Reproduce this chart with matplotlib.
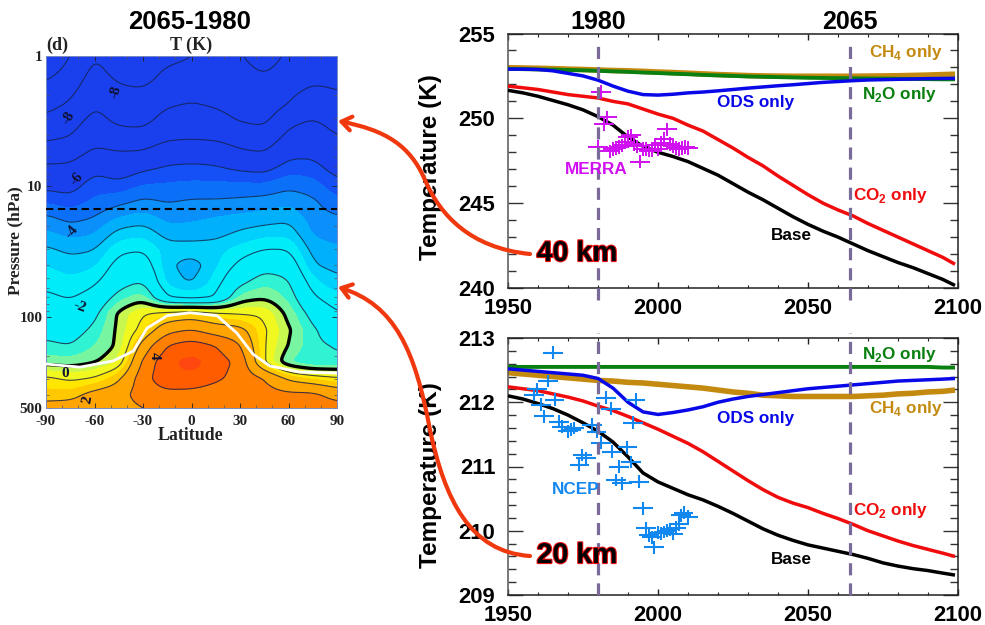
import numpy as np
import matplotlib
matplotlib.use('Agg')
import matplotlib.pyplot as plt
from matplotlib.colors import ListedColormap, BoundaryNorm
from matplotlib.patches import FancyArrowPatch
from matplotlib.path import Path
from matplotlib.ticker import MultipleLocator, FixedLocator, NullFormatter
import matplotlib.patheffects as pe

plt.rcParams['font.family'] = ['Liberation Sans', 'DejaVu Sans']
plt.rcParams['mathtext.fontset'] = 'custom'
plt.rcParams['mathtext.bf'] = 'Liberation Sans:bold'
plt.rcParams['mathtext.rm'] = 'Liberation Sans:bold'
plt.rcParams['axes.unicode_minus'] = False
plt.rcParams['contour.negative_linestyle'] = 'solid'

W, H = 985, 625

# ---- temperature change field, latitude vs pressure
lats = [-90, -75, -60, -45, -30, -15, 0, 15, 30, 45, 60, 75, 90]
press = [1.0, 1.33, 1.76, 2.34, 3.11, 4.14, 5.5, 7.3, 9.7, 12.9, 17.2, 22.8, 30.3,
         40.3, 53.6, 71.2, 94.7, 126, 167, 222, 296, 393, 500]
dT = np.array([
    [-9.8, -9.3, -8.8, -8.3, -7.8, -7.2, -6.5, -5.8, -5.2, -4.6, -3.9, -3.4, -2.9, -2.5, -2.2, -1.85, -1.5, -1.25, -0.85, -0.2, 1.15, 1.7, 2.3],
    [-9.0, -8.7, -8.3, -7.9, -7.4, -7.0, -6.4, -5.8, -5.3, -4.8, -4.2, -3.7, -3.15, -2.75, -2.4, -2.05, -1.65, -1.35, -1.0, -0.3, 0.85, 1.7, 2.4],
    [-8.0, -7.7, -7.4, -7.05, -6.7, -6.3, -5.8, -5.15, -4.7, -4.4, -4.0, -3.55, -3.05, -2.6, -2.15, -1.7, -1.25, -0.85, -0.5, -0.05, 1.05, 2.3, 2.6],
    [-8.6, -8.3, -7.9, -7.5, -7.2, -6.65, -5.95, -5.4, -4.85, -4.2, -3.5, -2.8, -2.15, -1.7, -1.35, -0.7, 0.15, 0.15, 0.1, 0.5, 1.8, 2.6, 2.6],
    [-8.9, -8.5, -8.0, -7.6, -7.25, -6.7, -5.9, -5.1, -4.5, -3.9, -3.3, -2.65, -2.05, -1.5, -0.95, -0.2, 0.95, 1.3, 2.4, 3.25, 3.6, 3.5, 3.0],
    [-8.3, -7.8, -7.5, -7.1, -6.65, -6.2, -5.4, -4.9, -4.45, -4.05, -3.7, -3.25, -2.75, -2.85, -2.7, -2.0, 1.3, 2.7, 4.05, 4.7, 4.7, 3.7, 3.1],
    [-8.0, -7.7, -7.3, -6.95, -6.5, -6.1, -5.45, -4.8, -4.4, -3.95, -3.6, -3.3, -2.7, -3.3, -3.1, -2.2, 1.5, 3.05, 4.5, 5.4, 4.8, 3.6, 3.0],
    [-7.8, -7.6, -7.4, -7.1, -6.7, -6.2, -5.4, -4.9, -4.4, -3.95, -3.5, -3.2, -2.7, -2.6, -2.3, -2.0, 1.15, 2.5, 4.0, 4.5, 4.2, 3.4, 3.0],
    [-7.9, -7.7, -7.5, -7.35, -7.05, -6.5, -5.85, -5.1, -4.4, -3.9, -3.4, -2.9, -2.35, -1.8, -1.2, -0.3, 0.95, 2.3, 3.1, 3.7, 3.6, 3.2, 3.0],
    [-8.5, -8.05, -7.8, -7.6, -7.2, -6.65, -6.0, -5.2, -4.45, -3.8, -3.3, -2.7, -2.0, -1.25, -0.65, -0.05, 0.9, 1.1, 1.0, 1.0, 3.0, 3.4, 3.4],
    [-7.8, -7.6, -7.3, -6.95, -6.25, -5.75, -5.2, -4.7, -4.15, -3.65, -3.15, -2.65, -2.0, -1.4, -0.9, -0.6, -0.2, 0.1, -0.05, -0.5, 1.8, 3.2, 3.5],
    [-7.8, -7.35, -6.9, -6.4, -5.95, -5.45, -5.15, -4.75, -4.3, -3.9, -3.75, -3.6, -3.25, -2.95, -2.4, -1.9, -1.3, -0.9, -0.85, -1.0, 1.4, 3.2, 3.6],
    [-7.6, -7.3, -7.05, -6.7, -6.35, -6.0, -5.65, -5.25, -4.85, -4.4, -3.95, -3.7, -3.45, -3.2, -2.85, -2.4, -1.95, -1.5, -1.05, -0.9, 1.1, 2.6, 3.4],
]).T

level_edges = [-20, -5, -4.5, -4, -3.5, -3, -2.5, -1, -0.5, 0, 0.5, 1, 1.5, 2, 3, 4, 5, 20]
level_cols = ['#1a40ee', '#1450f5', '#0c6ff8', '#0a8ffb', '#00b0fb', '#00d0fb', '#00ecf8',
              '#30f3d4', '#78f5a0', '#c8f850', '#f0f820', '#ffe600', '#ffc800',
              '#ffa400', '#ff8000', '#ff5c00', '#ff4810']
line_levels = [-10, -9, -8, -7, -6, -5, -4, -3, -2, -1, 1, 2, 3, 4]

# tropopause line, white on the panel
trop_lat = [-90, -69, -48.6, -36, -27.5, -15, -1, 15.8, 28, 38, 48.5, 67, 90]
trop_p = [230, 243, 218, 183, 122, 98, 93, 98, 133, 193, 238, 265, 270]

# ---- line panels
years = [1950, 1955, 1960, 1965, 1970, 1975, 1980, 1985, 1990, 1995, 2000, 2005, 2010, 2015, 2020, 2025,
         2030, 2035, 2040, 2045, 2050, 2055, 2060, 2065, 2070, 2075, 2080, 2085, 2090, 2095, 2099]
base_40 = [251.65, 251.5, 251.3, 251.05, 250.8, 250.5, 250.1, 249.6, 248.9, 248.35, 248.0, 247.75, 247.45, 247.05, 246.65, 246.15,
           245.65, 245.2, 244.7, 244.2, 243.75, 243.35, 243.0, 242.6, 242.2, 241.85, 241.5, 241.2, 240.85, 240.5, 240.15]
co2_40 = [251.9, 251.8, 251.7, 251.55, 251.4, 251.3, 251.2, 251.0, 250.85, 250.55, 250.25, 250.0, 249.6, 249.25, 248.75, 248.25,
          247.7, 247.2, 246.6, 246.05, 245.5, 245.0, 244.6, 244.25, 243.8, 243.4, 243.0, 242.6, 242.2, 241.8, 241.4]
ods_40 = [252.9, 252.9, 252.88, 252.8, 252.65, 252.5, 252.25, 251.9, 251.6, 251.4, 251.37, 251.42, 251.5, 251.55, 251.62, 251.7,
          251.78, 251.85, 251.92, 251.98, 252.05, 252.12, 252.17, 252.22, 252.26, 252.28, 252.3, 252.32, 252.34, 252.35, 252.36]
n2o_40 = [252.92, 252.9, 252.88, 252.87, 252.85, 252.83, 252.8, 252.77, 252.74, 252.7, 252.67, 252.63, 252.6, 252.56, 252.53, 252.5,
          252.47, 252.45, 252.43, 252.41, 252.39, 252.38, 252.37, 252.36, 252.35, 252.34, 252.33, 252.32, 252.31, 252.3, 252.3]
ch4_40 = [252.98, 252.97, 252.95, 252.93, 252.9, 252.88, 252.85, 252.82, 252.8, 252.77, 252.73, 252.7, 252.66, 252.62, 252.58, 252.55,
          252.52, 252.5, 252.49, 252.48, 252.48, 252.48, 252.48, 252.48, 252.49, 252.5, 252.51, 252.53, 252.55, 252.58, 252.6]

base_20 = [212.1, 212.05, 211.98, 211.9, 211.8, 211.68, 211.55, 211.38, 211.15, 210.9, 210.76, 210.66, 210.56, 210.48, 210.38, 210.27,
           210.15, 210.03, 209.93, 209.85, 209.78, 209.73, 209.68, 209.63, 209.57, 209.5, 209.45, 209.41, 209.38, 209.34, 209.31]
co2_20 = [212.24, 212.21, 212.18, 212.13, 212.08, 212.02, 211.94, 211.87, 211.78, 211.68, 211.58, 211.47, 211.36, 211.23, 211.08, 210.93,
          210.78, 210.64, 210.52, 210.43, 210.36, 210.27, 210.19, 210.1, 210.0, 209.92, 209.84, 209.77, 209.71, 209.65, 209.6]
ods_20 = [212.52, 212.5, 212.48, 212.46, 212.44, 212.42, 212.37, 212.22, 212.0, 211.85, 211.81, 211.84, 211.88, 211.93, 212.0, 212.05,
          212.09, 212.12, 212.15, 212.18, 212.21, 212.23, 212.25, 212.27, 212.29, 212.31, 212.33, 212.34, 212.35, 212.36, 212.37]
n2o_20 = [212.55, 212.55, 212.55, 212.55, 212.55, 212.55, 212.55, 212.55, 212.55, 212.55, 212.55, 212.55, 212.55, 212.55, 212.55, 212.55,
          212.55, 212.55, 212.55, 212.55, 212.55, 212.55, 212.55, 212.55, 212.55, 212.55, 212.55, 212.55, 212.55, 212.54, 212.54]
ch4_20 = [212.46, 212.44, 212.42, 212.4, 212.38, 212.36, 212.34, 212.33, 212.31, 212.3, 212.28, 212.26, 212.24, 212.22, 212.19, 212.16,
          212.14, 212.11, 212.1, 212.09, 212.09, 212.09, 212.09, 212.09, 212.1, 212.11, 212.13, 212.14, 212.16, 212.17, 212.19]

merra_year = list(range(1980, 2011))
merra_t = [248.3, 251.55, 249.65, 250.05, 248.05, 248.2, 248.25, 248.3, 248.4, 248.6, 248.9, 249.0, 248.5, 248.35,
           247.45, 248.2, 248.2, 248.1, 248.1, 248.4, 248.2, 248.55, 248.8, 249.35, 248.5, 248.35, 248.25, 248.2,
           248.25, 248.3, 248.25]

ncep_year = [1958.6, 1959.6, 1961, 1962, 1963.3, 1965, 1965.5, 1967, 1968, 1970, 1971, 1972, 1973.8, 1974.8, 1976,
             1978, 1979.5, 1981, 1982.6, 1984.3, 1984.6, 1986, 1987, 1988, 1989.8, 1991, 1991.7, 1992.5, 1993.7,
             1995, 1996, 1997, 1998, 1998.7, 2000, 2001, 2002, 2003, 2004, 2005, 2006, 2007, 2007.6, 2008.5, 2010]
ncep_t = [212.12, 212.2, 211.96, 211.78, 212.33, 212.77, 212.04, 211.7, 211.62, 211.55, 211.57, 211.6, 211.03, 211.18, 211.13,
          211.65, 211.54, 211.37, 212.07, 211.9, 211.23, 210.79, 211.0, 210.74, 211.3, 211.07, 211.68, 212.04, 210.76,
          210.35, 210.04, 209.93, 209.9, 209.74, 209.97, 209.96, 209.98, 210.0, 210.02, 209.95, 210.05, 210.1, 210.24, 210.28, 210.22]

marker_years = [1980, 2064]


def px_box(left, top, right, bottom):
    return [left / W, 1 - bottom / H, (right - left) / W, (bottom - top) / H]


def ptext(x, y, s, **kw):
    kw.setdefault('ha', 'center')
    kw.setdefault('va', 'center')
    kw.setdefault('fontweight', 'bold')
    return fig.text(x / W, 1 - y / H, s, **kw)


def smooth_field(lat, logp, z, nx=291, ny=352, sig=2):
    # resample table on a fine grid so the contours come out round
    xf = np.linspace(lat[0], lat[-1], nx)
    yf = np.linspace(logp[0], logp[-1], ny)
    tmp = np.array([np.interp(yf, logp, z[:, j]) for j in range(z.shape[1])]).T
    zf = np.array([np.interp(xf, lat, tmp[i]) for i in range(ny)])
    # wider blur across latitude, the table is coarse there
    for axis, s in [(0, sig), (1, 3 * sig)]:
        k = np.exp(-0.5 * (np.arange(-3 * s, 3 * s + 1) / s) ** 2)
        k /= k.sum()
        zp = np.pad(zf, [(3 * s, 3 * s) if a == axis else (0, 0) for a in (0, 1)], mode='edge')
        zf = np.apply_along_axis(lambda a: np.convolve(a, k, mode='valid'), axis, zp)
    return xf, 10 ** yf, zf


def line_panel(ax, ylim, ymaj, ymin, dash_span):
    ax.set_xlim(1950, 2100)
    ax.set_ylim(*ylim)
    ax.xaxis.set_major_locator(MultipleLocator(50))
    ax.xaxis.set_minor_locator(MultipleLocator(10))
    ax.yaxis.set_major_locator(MultipleLocator(ymaj))
    ax.yaxis.set_minor_locator(MultipleLocator(ymin))
    ax.tick_params(axis='y', which='major', direction='in', length=11, width=1, left=True, right=True,
                   labelsize=15.8, pad=9, color='#333333')
    ax.tick_params(axis='y', which='minor', direction='in', length=6, width=1, left=True, right=True, color='#333333')
    ax.tick_params(axis='x', which='major', direction='in', length=4, width=1, top=True, bottom=True,
                   labelsize=15.8, pad=7, color='#222222')
    ax.tick_params(axis='x', which='minor', direction='in', length=2.5, width=0.8, top=True, bottom=True, color='#222222')
    for lab in ax.get_xticklabels() + ax.get_yticklabels():
        lab.set_fontweight('bold')
    for sp in ax.spines.values():
        sp.set_linewidth(1.1)
        sp.set_color('#222222')
    ax.spines['left'].set_color('#555555')
    for yr in marker_years:
        ax.plot([yr, yr], dash_span, transform=ax.get_xaxis_transform(), clip_on=False,
                color='#7a6a9a', lw=2.3, dashes=(3.8, 2.5), dash_capstyle='butt', zorder=5)


def draw_lines(ax, base, co2, ods, n2o, ch4):
    ax.plot(years, ch4, color='#c48a10', lw=4, zorder=2, solid_capstyle='butt')
    ax.plot(years, n2o, color='#0a8010', lw=2.8, zorder=3, solid_capstyle='butt')
    ax.plot(years, ods, color='#0808e8', lw=2.5, zorder=3, solid_capstyle='butt')
    ax.plot(years, co2, color='#f00c0c', lw=2.5, zorder=3, solid_capstyle='butt')
    ax.plot(years, base, color='black', lw=2.5, zorder=3, solid_capstyle='butt')


fig = plt.figure(figsize=(W / 100, H / 100), dpi=100)

# left contour panel
ax0 = fig.add_axes(px_box(46, 56, 337, 408))
lon, pp, zz = smooth_field(np.array(lats, float), np.log10(press), dT)
cmap = ListedColormap(level_cols)
norm = BoundaryNorm(level_edges, cmap.N)
ax0.contourf(lon, pp, zz, levels=level_edges, cmap=cmap, norm=norm)
ax0.contour(lon, pp, zz, levels=line_levels, colors='#14204a', linewidths=0.8, alpha=0.8)
ax0.contour(lon, pp, zz, levels=[0], colors='black', linewidths=2.4)
ax0.set_yscale('log')
ax0.set_xlim(-90, 90)
ax0.set_ylim(500, 1)
ax0.plot(trop_lat, trop_p, color='white', lw=2, zorder=6)
ax0.axhline(15.0, color='black', lw=1.5, dashes=(3.5, 2.2), zorder=6)
ax0.set_xticks([-90, -60, -30, 0, 30, 60, 90])
ax0.xaxis.set_minor_locator(MultipleLocator(10))
ax0.yaxis.set_major_locator(FixedLocator([1, 10, 100, 500]))
ax0.yaxis.set_minor_locator(FixedLocator([2, 3, 4, 5, 6, 7, 8, 9, 20, 30, 40, 50, 60, 70, 80, 90, 200, 300, 400]))
ax0.yaxis.set_minor_formatter(NullFormatter())
ax0.set_yticklabels(['1', '10', '100', '500'])
ax0.tick_params(which='major', direction='in', length=3.5, width=0.6, top=True, right=True,
                labelsize=11, pad=2.5, colors='#222222')
ax0.tick_params(axis='x', which='major', pad=5)
ax0.tick_params(which='minor', direction='in', length=2, width=0.5, top=True, right=True, colors='#555555')
for lab in ax0.get_xticklabels() + ax0.get_yticklabels():
    lab.set_family('Liberation Serif')
    lab.set_fontweight('bold')
for sp in ax0.spines.values():
    sp.set_color('#7a8ac0')
    sp.set_linewidth(0.7)

# contour labels
for lat_l, p_l, s, rot in [(-47, 1.9, '-8', 75), (-76, 3.0, '-8', 60), (-71, 8.8, '-6', 50),
                           (-74, 22.5, '-4', 50), (-69, 84, '-2', -20), (-78, 272, '0', 0),
                           (-64, 430, '2', 80), (-23, 200, '4', -90)]:
    ax0.text(lat_l, p_l, s, fontsize=11, fontweight='bold', color='#101030', ha='center', va='center',
             rotation=rot, family='Liberation Serif', zorder=7)

ptext(190, 22, '2065-1980', fontsize=18.5)
ptext(57, 45, '(d)', fontsize=13, family='Liberation Serif', color='#222222')
ptext(191, 45, 'T (K)', fontsize=13, family='Liberation Serif', color='#222222')
ptext(191, 436, 'Latitude', fontsize=12.8, family='Liberation Serif', color='#222222')
ptext(15, 241, 'Pressure (hPa)', fontsize=12.5, family='Liberation Serif', color='#222222', rotation=90)

# top panel, 40 km
ax1 = fig.add_axes(px_box(508, 33.5, 958, 288))
line_panel(ax1, (240, 255), 5, 1, (-0.047, 0.974))
draw_lines(ax1, base_40, co2_40, ods_40, n2o_40, ch4_40)
ax1.errorbar(merra_year, merra_t, xerr=3.3, yerr=0.4, fmt='none', ecolor='#d010f0', elinewidth=1.4, zorder=4)

# bottom panel, 20 km
ax2 = fig.add_axes(px_box(508, 338, 958, 595))
line_panel(ax2, (209, 213), 1, 0.2, (0.0, 1.02))
draw_lines(ax2, base_20, co2_20, ods_20, n2o_20, ch4_20)
ax2.errorbar(ncep_year, ncep_t, xerr=3.3, yerr=0.1, fmt='none', ecolor='#1088f0', elinewidth=1.5, zorder=4)

ptext(430, 167, 'Temperature (K)', fontsize=17.5, rotation=90)
ptext(430, 475, 'Temperature (K)', fontsize=17.5, rotation=90)

# years over the top panel
ptext(598, 22, '1980', fontsize=18)
ptext(850, 22, '2065', fontsize=18)

# curve labels
lab_fs = 12.3
ptext(906, 52, r'CH$_{\mathbf{4}}$ only', color='#c48a10', fontsize=lab_fs)
ptext(899, 95, r'N$_{\mathbf{2}}$O only', color='#0a8010', fontsize=lab_fs)
ptext(756, 103, 'ODS only', color='#0808e8', fontsize=lab_fs)
ptext(890, 195, r'CO$_{\mathbf{2}}$ only', color='#f00c0c', fontsize=lab_fs)
ptext(791, 236, 'Base', color='black', fontsize=lab_fs)
ptext(596, 170, 'MERRA', color='#d010f0', fontsize=lab_fs)

ptext(899, 354, r'N$_{\mathbf{2}}$O only', color='#0a8010', fontsize=lab_fs)
ptext(906, 409, r'CH$_{\mathbf{4}}$ only', color='#c48a10', fontsize=lab_fs)
ptext(756, 418, 'ODS only', color='#0808e8', fontsize=lab_fs)
ptext(890, 510, r'CO$_{\mathbf{2}}$ only', color='#f00c0c', fontsize=lab_fs)
ptext(791, 559, 'Base', color='black', fontsize=lab_fs)
ptext(576, 489, 'NCEP', color='#1088f0', fontsize=lab_fs)


# red arrows from the altitude labels to the contour panel
def arrow(pts):
    verts = [(x / W, 1 - y / H) for x, y in pts]
    codes = [Path.MOVETO, Path.CURVE4, Path.CURVE4, Path.CURVE4, Path.CURVE4, Path.CURVE4, Path.CURVE4]
    fig.add_artist(FancyArrowPatch(path=Path(verts, codes), transform=fig.transFigure,
                                   arrowstyle='->,head_length=7,head_width=5',
                                   color='#f0380e', lw=3, zorder=10))


arrow([(530, 254), (470, 248), (440, 215), (425, 180), (410, 145), (385, 130), (338, 121)])
arrow([(530, 556), (470, 552), (445, 500), (430, 430), (415, 350), (395, 305), (338, 287)])

for y, s in [(254, '40 km'), (556, '20 km')]:
    t = ptext(577, y, s, fontsize=20.5, color='black', zorder=11)
    t.set_path_effects([pe.withStroke(linewidth=1.6, foreground='#e81010')])

fig.savefig('out.png', dpi=100)
